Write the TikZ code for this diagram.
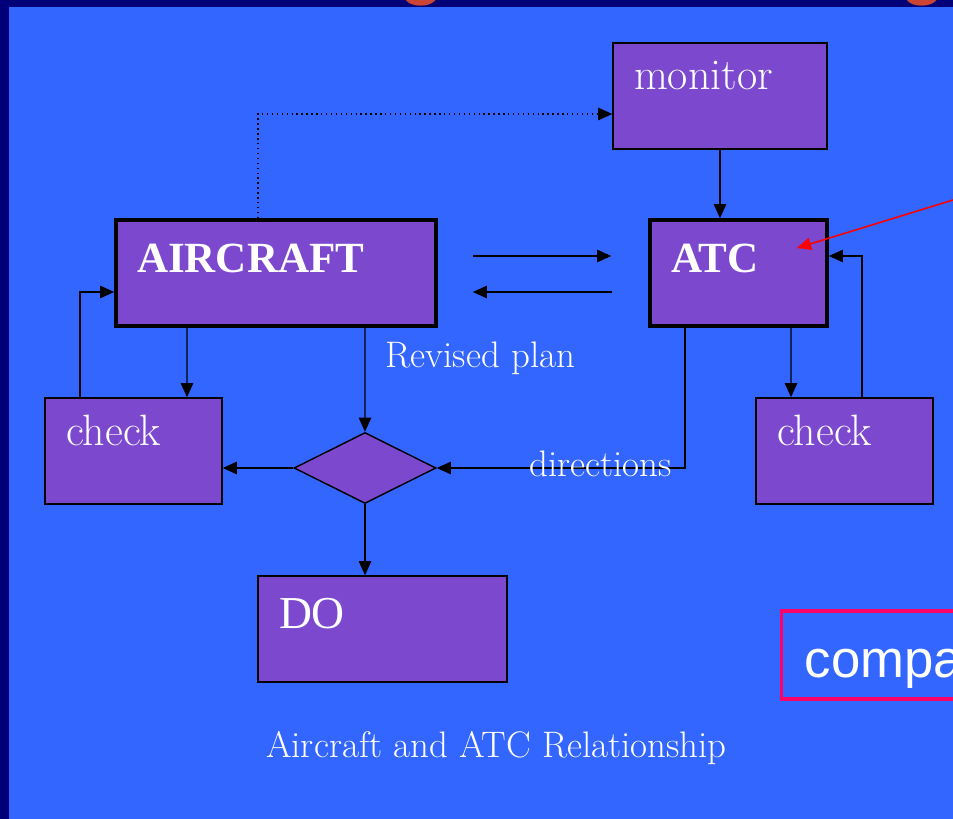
\documentclass[tikz,border=0pt]{standalone}
\usepackage{fontspec}
\usetikzlibrary{arrows.meta,shapes.geometric}
\newfontfamily\timesfont{Liberation Serif}
\newfontfamily\arialfont{Liberation Sans}
\definecolor{slidenavy}{HTML}{000078}
\definecolor{slideblue}{HTML}{3366FF}
\definecolor{boxfill}{HTML}{7B48CE}
\definecolor{titlered}{HTML}{CC4433}
\definecolor{notepink}{HTML}{FF0066}

\begin{document}
\begin{tikzpicture}[
  box/.style={draw=black, line width=0.8pt, fill=boxfill, text=white, inner xsep=0.42cm, inner ysep=0pt,
    align=left, text height=0.94cm, text depth=1.18cm, font=\fontsize{25}{29}\selectfont},
  bigbox/.style={box, line width=2pt, text height=1.06cm, text depth=1.06cm,
    font=\timesfont\bfseries\fontsize{24.5}{28}\selectfont},
  arr/.style={draw=black, line width=0.8pt, -{Triangle[length=8pt,width=7pt]}},
  lbl/.style={text=white, inner sep=0pt, font=\fontsize{21}{25}\selectfont}]
\useasboundingbox (0,0) rectangle (19.06,-16.38);
\clip (0,0) rectangle (19.06,-16.38);
\fill[slidenavy] (0,0) rectangle (19.06,-16.38);
\fill[slideblue] (0.18,-0.14) rectangle (19.06,-16.38);
\node[text=titlered, anchor=base west, inner sep=0pt, font=\arialfont\bfseries\fontsize{42}{48}\selectfont] (tg1) at (7.98,0.18) {g};
\node[text=titlered, anchor=base west, inner sep=0pt, font=\arialfont\bfseries\fontsize{42}{48}\selectfont] (tg2) at (18.01,0.18) {g};

\node[box, text width=3.44cm] (monitor) at (14.40,-1.92) {monitor};
\node[bigbox, text width=5.56cm] (aircraft) at (5.52,-5.46) {AIRCRAFT};
\node[bigbox, text width=2.70cm] (atc) at (14.77,-5.46) {ATC};
\node[box, text width=2.70cm] (checkl) at (2.67,-9.02) {check};
\node[box, text width=2.70cm] (checkr) at (16.89,-9.02) {check};
\node[diamond, draw=black, line width=0.8pt, fill=boxfill, inner sep=0pt, minimum width=2.84cm, minimum height=1.42cm] (decide) at (7.30,-9.36) {};
\node[box, text width=4.14cm, text height=1.04cm, text depth=1.08cm, font=\timesfont\fontsize{26}{30}\selectfont] (do) at (7.65,-12.58) {DO};
\node[draw=notepink, line width=1.9pt, anchor=west, text=white, inner xsep=0.46cm, inner ysep=0pt, text width=4cm, align=left,
  text height=1.32cm, text depth=0.44cm, font=\arialfont\fontsize{30}{34}\selectfont] (note) at (15.6,-13.10) {compa};
\node[lbl] (caption) at (9.93,-14.96) {Aircraft and ATC Relationship};

\draw[arr, dotted] ([xshift=-0.36cm]aircraft.north) |- ([yshift=-0.36cm]monitor.west);
\draw[arr] (monitor.south) -- (monitor.south |- atc.north);
\draw[arr] ([xshift=0.70cm,yshift=0.34cm]aircraft.east) -- ([xshift=-0.74cm,yshift=0.34cm]atc.west);
\draw[arr] ([xshift=-0.72cm,yshift=-0.38cm]atc.west) -- ([xshift=0.70cm,yshift=-0.38cm]aircraft.east);
\draw[arr] ([xshift=-1.78cm]aircraft.south) -- ([xshift=1.07cm]checkl.north);
\draw[arr] ([xshift=-1.07cm]checkl.north) |- ([yshift=-0.38cm]aircraft.west);
\draw[arr] ([xshift=1.78cm]aircraft.south) -- node[lbl, pos=0.29, anchor=west, xshift=0.4cm] (revised) {Revised plan} (decide.north);
\draw[arr] (decide.west) -- (decide.west -| checkl.east);
\draw[arr] ([xshift=-1.07cm]atc.south) |- node[lbl, pos=0.67, yshift=0.09cm] (dirs) {directions} (decide.east);
\draw[arr] (decide.south) -- (decide.south |- do.north);
\draw[arr] ([xshift=1.05cm]atc.south) -- ([xshift=-1.07cm]checkr.north);
\draw[arr] ([xshift=0.35cm]checkr.north) |- ([yshift=0.34cm]atc.east);

\coordinate (ptr) at (19.06,-4.00);
\draw[red, line width=0.9pt, -{Triangle[length=8pt,width=7pt]}] (ptr) -- ([xshift=1.17cm,yshift=0.50cm]atc.center);
\end{tikzpicture}
\end{document}
